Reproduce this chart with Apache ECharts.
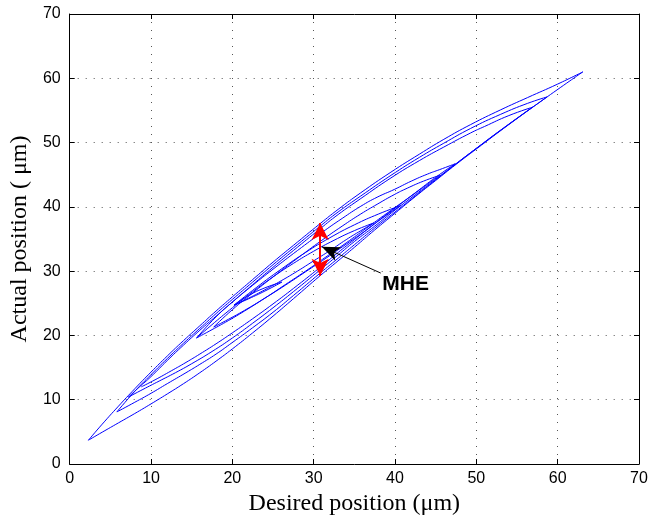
<!DOCTYPE html>
<html>
<head>
<meta charset="utf-8">
<script src="https://cdn.jsdelivr.net/npm/echarts@6/dist/echarts.min.js"></script>
<style>
  html, body { margin: 0; padding: 0; background: #fff; }
  #main { width: 651px; height: 521px; }
</style>
</head>
<body>
<div id="main"></div>
<script>
// branches of the hysteresis loops, [desired, actual] in um
var lowMajor = [[2.3, 3.7], [4, 4.95], [6, 6.4], [8, 7.85], [10, 9.35], [12, 10.9], [14, 12.5], [16, 14.2], [18, 16.0], [20, 17.9], [22.5, 20.4], [25, 23.0], [27.5, 25.7], [30.8, 29.3], [33, 31.6], [35, 33.7], [37.5, 36.4], [40, 39.0], [42.5, 41.6], [45, 44.1], [47.5, 46.6], [50, 49.0], [54, 52.8], [58.7, 57.1], [63.1, 61.0]];
var upMajor = [[63.1, 61.0], [60, 59.1], [56.3, 57.0], [53, 55.1], [49.3, 52.8], [46, 50.5], [43, 48.2], [39.5, 45.4], [35.8, 42.2], [33, 39.6], [30.8, 37.4], [27.5, 34.0], [25, 31.4], [22.5, 28.7], [20, 26.0], [18, 23.8], [16, 21.5], [14, 19.2], [12, 16.8], [10, 14.3], [8, 11.7], [6, 9.0], [4, 6.2], [2.3, 3.7]];
var asc2 = [[5.8, 8.1], [8, 9.6], [10, 11.0], [12, 12.5], [14.3, 14.2], [16, 15.5], [18, 17.1], [20, 18.9], [22.5, 21.2], [25, 23.6], [27.5, 26.2], [30.8, 29.7], [33, 32.0], [35, 34.1], [37.5, 36.7], [40, 39.2], [42.5, 41.7], [45, 44.2], [47.5, 46.7], [50, 49.1], [54, 52.85], [58.7, 57.1]];
var desc2 = [[58.7, 57.1], [56.3, 56.1], [53, 54.4], [49.3, 52.2], [46, 49.9], [43, 47.7], [39.5, 44.9], [35.8, 41.7], [33, 39.2], [30.8, 37.0], [27.5, 33.6], [25, 31.0], [22.5, 28.3], [20, 25.6], [18, 23.4], [16, 21.1], [14, 18.8], [12, 16.4], [10, 13.9], [8, 11.3], [5.8, 8.1]];
var asc3 = [[7.2, 10.4], [9, 11.6], [11, 12.9], [13, 14.2], [15, 15.6], [17.5, 17.5], [20, 19.6], [22.5, 21.9], [25, 24.3], [27.5, 26.8], [30.8, 30.2], [33, 32.5], [35, 34.6], [37.5, 37.0], [40, 39.5], [42.5, 41.9], [45, 44.3], [47.5, 46.7], [50, 49.1], [53, 51.95], [56.9, 55.5]];
var desc3 = [[56.9, 55.5], [54, 54.2], [51, 52.5], [49.3, 51.5], [46, 49.3], [43, 47.2], [39.5, 44.5], [35.8, 41.3], [33, 38.8], [30.8, 36.6], [27.5, 33.2], [25, 30.6], [22.5, 27.9], [20, 25.2], [18, 23.0], [16, 20.8], [14, 18.5], [12, 16.1], [10, 13.6], [8.5, 11.9], [7.2, 10.4]];
var asc4 = [[8.8, 12.0], [10.5, 13.1], [12.5, 14.5], [14.3, 15.8], [16, 17.1], [18, 18.7], [20, 20.4], [22.5, 22.6], [25, 24.9], [27.5, 27.3], [30.8, 30.6], [33, 32.9], [35, 34.9], [37.5, 37.4], [40, 39.8], [42.5, 42.2], [45, 44.6], [47.4, 46.7]];
var desc4 = [[47.4, 46.7], [45.5, 45.8], [44, 45.1], [42, 44.0], [39.9, 42.7], [37.8, 41.5], [35.8, 40.1], [33.5, 38.2], [31, 36.0], [28, 33.2], [25, 30.3], [22.5, 27.8], [20.2, 25.4], [18, 22.9], [15.6, 19.6]];
var asc5 = [[15.6, 19.6], [17.5, 20.9], [19.5, 22.3], [21.5, 23.8], [24, 25.8], [26.5, 27.9], [29, 30.0], [31.5, 32.2], [34, 34.4], [36.5, 36.7], [39, 39.0], [42, 41.7], [45.5, 44.9]];
var desc5 = [[45.5, 44.9], [43.5, 44.0], [41.5, 42.9], [39.9, 41.9], [37.8, 40.4], [35.8, 38.9], [33.5, 37.0], [31, 34.8], [28, 32.0], [25, 29.1], [22.5, 26.6], [20, 24.0], [17.7, 21.3]];
var asc6 = [[17.7, 21.3], [19.5, 22.5], [21.5, 23.9], [24, 25.8], [26.5, 27.8], [29, 29.9], [31.5, 32.0], [34, 34.2], [36.5, 36.4], [38.5, 38.3], [40.7, 40.2]];
var desc6 = [[40.7, 40.2], [38, 38.9], [35, 37.2], [32, 35.2], [29, 32.9], [26, 30.3], [23, 27.5], [20.2, 24.7]];
var ascInner = [[20.2, 24.7], [22, 25.7], [24, 26.9], [26.1, 28.3]];
var descInner = [[26.1, 28.3], [24, 27.4], [22, 26.2], [20.2, 24.7]];
var asc7 = [[20.2, 24.7], [22, 25.8], [24, 27.1], [26, 28.5], [28, 30.0], [30, 31.6], [32, 33.2], [34, 34.9], [35.8, 36.3], [37.4, 37.5]];
var desc7 = [[37.4, 37.5], [35, 36.3], [32.5, 34.8], [30, 33.1], [27.5, 31.2], [25, 29.1], [22.5, 26.8], [20, 24.3], [17.8, 22.0], [15.6, 19.6]];

// annotations
var mheArrow = [[30.8, 29.3], [30.8, 37.5]];
var pointerArrow = [[38.25, 29.7], [31.0, 33.8]];
var mheLabel = [41.3, 27.9];

var branches = [lowMajor, upMajor, asc2, desc2, asc3, desc3, asc4, desc4,
    asc5, desc5, asc6, desc6, ascInner, descInner, asc7, desc7];

var chart = echarts.init(document.getElementById('main'));

var series = branches.map(function (d) {
    return {
        type: 'line',
        data: d,
        showSymbol: false,
        smooth: 0.5,
        silent: true,
        lineStyle: { color: '#0000ff', width: 1 }
    };
});

series.push({
    type: 'line',
    data: [],
    silent: true,
    markLine: {
        silent: true,
        animation: false,
        label: { show: false },
        data: [
            [{ coord: mheArrow[0], symbol: 'arrow', symbolSize: [13, 17], lineStyle: { color: '#ff0000', width: 2, type: 'solid' }, itemStyle: { color: '#ff0000' } },
             { coord: mheArrow[1], symbol: 'arrow', symbolSize: [13, 17] }],
            [{ coord: pointerArrow[0], symbol: 'none', lineStyle: { color: '#000', width: 1, type: 'solid' }, itemStyle: { color: '#000' } },
             { coord: pointerArrow[1], symbol: 'arrow', symbolSize: [11, 18] }]
        ]
    },
    markPoint: {
        silent: true,
        animation: false,
        data: [{
            coord: mheLabel,
            symbol: 'circle',
            symbolSize: 1,
            itemStyle: { color: 'rgba(0,0,0,0)' },
            label: {
                show: true, position: 'inside', formatter: 'MHE',
                color: '#000', fontSize: 21, fontWeight: 'bold', fontFamily: 'Liberation Sans'
            }
        }]
    }
});

var labelFont = { color: '#000', fontSize: 16, fontFamily: 'Liberation Sans' };
var grid = { type: [1, 7], color: '#555', width: 1 };

chart.setOption({
    animation: false,
    backgroundColor: '#fff',
    grid: { left: 68, right: 12, top: 14, bottom: 57 },
    xAxis: [{
        type: 'value', min: 0, max: 70, interval: 10,
        name: 'Desired position (\u03bcm)', nameLocation: 'middle', nameGap: 28,
        nameTextStyle: { color: '#000', fontSize: 24, fontFamily: 'Liberation Serif' },
        axisLine: { show: true, onZero: false, lineStyle: { color: '#000', width: 1 } },
        axisTick: { show: true, inside: true, length: 5, lineStyle: { color: '#000' } },
        axisLabel: Object.assign({ margin: 7 }, labelFont),
        splitLine: { show: true, lineStyle: grid }
    }, {
        type: 'value', position: 'top', min: 0, max: 70, interval: 10,
        axisLine: { show: true, onZero: false, lineStyle: { color: '#000', width: 1 } },
        axisTick: { show: true, inside: true, length: 5, lineStyle: { color: '#000' } },
        axisLabel: { show: false },
        splitLine: { show: false }
    }],
    yAxis: [{
        type: 'value', min: 0, max: 70, interval: 10,
        name: 'Actual position ( \u03bcm)', nameLocation: 'middle', nameGap: 32,
        nameTextStyle: { color: '#000', fontSize: 24, fontFamily: 'Liberation Serif' },
        axisLine: { show: true, onZero: false, lineStyle: { color: '#000', width: 1 } },
        axisTick: { show: true, inside: true, length: 5, lineStyle: { color: '#000' } },
        axisLabel: Object.assign({ margin: 9 }, labelFont),
        splitLine: { show: true, lineStyle: grid }
    }, {
        type: 'value', position: 'right', min: 0, max: 70, interval: 10,
        axisLine: { show: true, onZero: false, lineStyle: { color: '#000', width: 1 } },
        axisTick: { show: true, inside: true, length: 5, lineStyle: { color: '#000' } },
        axisLabel: { show: false },
        splitLine: { show: false }
    }],
    series: series
});
</script>
</body>
</html>
